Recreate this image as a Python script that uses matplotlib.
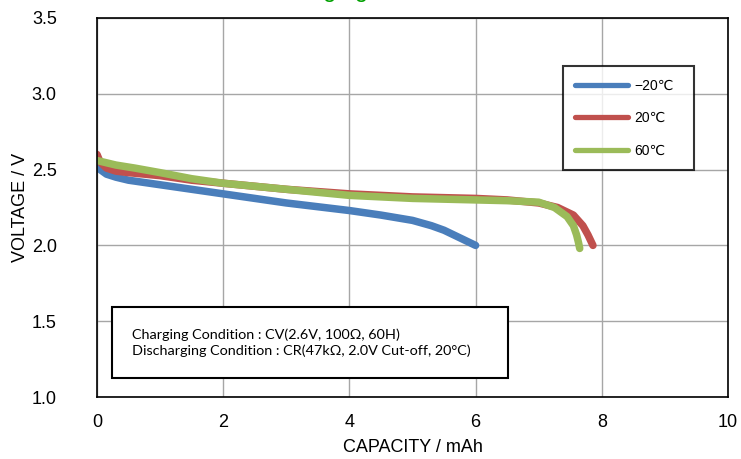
import matplotlib.pyplot as plt
from matplotlib.patches import Rectangle

# data
cap_m20 = [0.0, 0.05, 0.15, 0.3, 0.5, 1.0, 1.5, 2.0, 2.5, 3.0, 3.5, 4.0, 4.5, 5.0, 5.3, 5.5, 5.7, 5.85, 6.0]
volt_m20 = [2.53, 2.50, 2.47, 2.45, 2.43, 2.40, 2.37, 2.34, 2.31, 2.28, 2.255, 2.23, 2.20, 2.165, 2.13, 2.10, 2.06, 2.03, 2.00]

cap_20 = [0.0, 0.05, 0.15, 0.3, 0.5, 1.0, 1.5, 2.0, 3.0, 4.0, 5.0, 6.0, 6.5, 7.0, 7.3, 7.55, 7.7, 7.78, 7.86]
volt_20 = [2.60, 2.55, 2.51, 2.49, 2.48, 2.46, 2.43, 2.41, 2.37, 2.34, 2.32, 2.31, 2.30, 2.28, 2.25, 2.20, 2.13, 2.07, 2.00]

cap_60 = [0.0, 0.1, 0.3, 0.6, 1.0, 1.5, 2.0, 3.0, 4.0, 5.0, 6.0, 6.5, 7.0, 7.25, 7.45, 7.55, 7.6, 7.63, 7.65]
volt_60 = [2.56, 2.55, 2.53, 2.51, 2.48, 2.44, 2.41, 2.37, 2.33, 2.31, 2.30, 2.295, 2.285, 2.25, 2.19, 2.13, 2.07, 2.02, 1.98]

series = [(cap_m20, volt_m20, "\u221220\u2103", "#4a7ebb"),
          (cap_20, volt_20, "20\u2103", "#c0504d"),
          (cap_60, volt_60, "60\u2103", "#9bbb59")]

plt.rcParams['font.family'] = ['Liberation Sans', 'DejaVu Sans']

fig = plt.figure(figsize=(7.41, 4.59), dpi=100)
ax = fig.add_axes([97 / 741, 1 - 397 / 459, 631 / 741, 379 / 459])

for x, y, lab, col in series:
    ax.plot(x, y, color=col, linewidth=5.4, solid_capstyle='round', label=lab)

ax.set_xlim(0, 10)
ax.set_ylim(1.0, 3.5)
ax.set_xticks([0, 2, 4, 6, 8, 10])
ax.set_yticks([1.0, 1.5, 2.0, 2.5, 3.0, 3.5])
ax.set_yticklabels(["1.0", "1.5", "2.0", "2.5", "3.0", "3.5"])
ax.tick_params(length=0, labelsize=13)
ax.tick_params(axis='x', pad=12)
ax.tick_params(axis='y', pad=29)
ax.grid(True, color="#a6a6a6", linewidth=1)
ax.set_axisbelow(True)
for s in ax.spines.values():
    s.set_linewidth(1.2)

ax.set_xlabel("CAPACITY / mAh", fontsize=13, labelpad=6)
ax.set_ylabel("VOLTAGE / V", fontsize=13, labelpad=2)

leg = ax.legend(loc='upper left', bbox_to_anchor=(0.7385, 0.6148, 0.2076, 0.2586),
                mode='expand', fontsize=10,
                frameon=True, fancybox=False, edgecolor='black',
                handlelength=3.8, handletextpad=0.45, labelspacing=1.35,
                borderpad=0.9, borderaxespad=0)
leg.get_frame().set_linewidth(1.5)
for h in leg.get_lines():
    h.set_linewidth(3.8)

ax.add_patch(Rectangle((0.0238, 0.0501), 0.6275, 0.1874, transform=ax.transAxes,
                       facecolor='white', edgecolor='black', linewidth=1.5, zorder=4))
ax.text(0.0555, 0.144,
        "Charging Condition : CV(2.6V, 100\u03a9, 60H)\n"
        "Discharging Condition : CR(47k\u03a9, 2.0V Cut-off, 20\u00b0C)",
        transform=ax.transAxes, fontsize=10.4, family=['Lato', 'DejaVu Sans'],
        va='center', ha='left', linespacing=1.35, zorder=5)

fig.text(0.522, 1.0 + 3.5 / 459, "Discharging Characteristics", color="#00a000",
         fontsize=17, ha='center', va='baseline')

fig.savefig("out.png", dpi=100)
